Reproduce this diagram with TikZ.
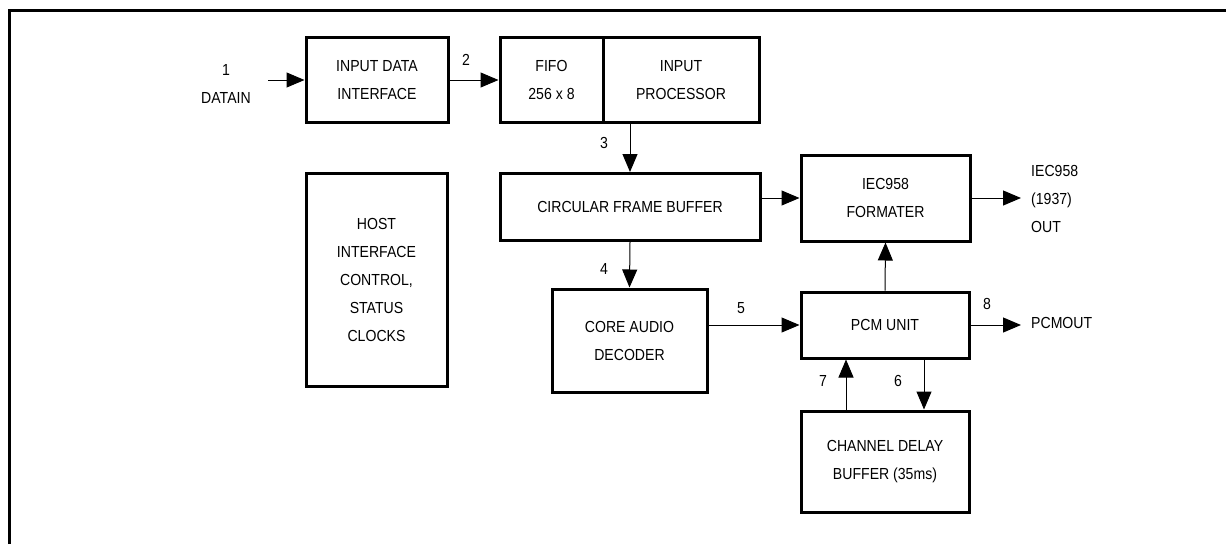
\documentclass[tikz,border=0pt]{standalone}
\usepackage{fontspec}
\setmainfont[FakeStretch=0.88]{Liberation Sans}
\usetikzlibrary{positioning, arrows.meta}

\begin{document}
\begin{tikzpicture}[x=1pt, y=-1pt,
    txt/.style={font=\fontsize{16}{28}\selectfont, align=center, inner sep=0pt},
    blk/.style={txt, draw, line width=3pt},
    arr/.style={line width=1pt, -{Triangle[length=18pt, width=15pt]}}]
            \useasboundingbox (0,0) rectangle (1226,544);

            % frame
            \coordinate (fbl) at (9,544);
            \coordinate (ftl) at (9,10);
            \coordinate (ftr) at (1226,10);
            \draw[line width=3pt] (fbl) -- (ftl) -- (ftr);

            % blocks
            \node[blk, minimum width=142, minimum height=85] (idi) at (377,80) {INPUT DATA\\INTERFACE};
            \node[blk, minimum width=103, minimum height=85] (fifo) at (551.5,80) {FIFO\\256 x 8};
            \node[blk, minimum width=156, minimum height=85] (proc) at (681,80) {INPUT\\PROCESSOR};
            \node[blk, minimum width=260, minimum height=67] (cfb) at (630,207) {CIRCULAR FRAME BUFFER};
            \node[blk, minimum width=169, minimum height=86] (iec) at (885.5,198) {IEC958\\FORMATER};
            \node[blk, minimum width=141, minimum height=213] (host) at (376.5,280) {HOST\\INTERFACE\\CONTROL,\\STATUS\\CLOCKS};
            \node[blk, minimum width=155, minimum height=103] (core) at (629.5,340.5) {CORE AUDIO\\DECODER};
            \node[blk, minimum width=168, minimum height=66] (pcm) at (885,325) {PCM UNIT};
            \node[blk, minimum width=168, minimum height=101] (cdb) at (885,461.5) {CHANNEL DELAY\\BUFFER (35ms)};

            % outside texts
            \node[txt] (datain) at (226,84) {1\\DATAIN};
            \node[txt, anchor=west, align=left] (iecout) at (1031,199) {IEC958\\(1937)\\OUT};
            \node[txt, anchor=west] (pcmout) at (1031,323) {PCMOUT};

            % numbers
            \node[txt] (n2) at (466,60) {2};
            \node[txt] (n3) at (604,143) {3};
            \node[txt] (n4) at (604,269) {4};
            \node[txt] (n5) at (741,308) {5};
            \node[txt] (n6) at (898,381) {6};
            \node[txt] (n7) at (823,381) {7};
            \node[txt] (n8) at (987,304) {8};

            % Draw edges
            \coordinate (din) at (268,80);
            \coordinate (outa) at (1021,198);
            \coordinate (outb) at (1021,325);
            \draw[arr] (din) -- (idi.west);
            \draw[arr] (idi.east) -- (fifo.west);
            \draw[arr] (proc.south -| cfb.north) -- (cfb.north);
            \draw[arr] (cfb.east |- iec.west) -- (iec.west);
            \draw[arr] (iec.east) -- (outa);
            \draw[arr] (cfb.south) -- (core.north);
            \draw[arr] (core.east |- pcm.west) -- (pcm.west);
            \draw[arr] (pcm.north) -- (iec.south);
            \draw[arr] (pcm.east) -- (outb);
            \draw[arr] ([xshift=39pt]pcm.south) -- ([xshift=39pt]cdb.north);
            \draw[arr] ([xshift=-39pt]cdb.north) -- ([xshift=-39pt]pcm.south);

        \end{tikzpicture}
\end{document}
